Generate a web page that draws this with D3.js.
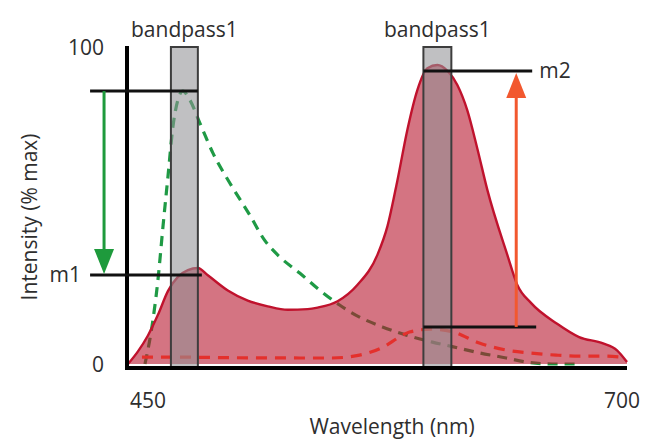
<!DOCTYPE html>
<html>
<head>
<meta charset="utf-8">
<script src="https://cdn.jsdelivr.net/npm/d3@7"></script>
<style>
  html, body { margin: 0; padding: 0; background: #fff; }
  svg { display: block; }
  text { font-family: "Open Sans", "Noto Sans", sans-serif; fill: #2e2e2e; }
</style>
</head>
<body>
<svg id="chart" width="648" height="440"></svg>
<script>
// ---- data ----
const redWl  = [450, 455, 460, 465, 470, 475, 480, 485, 490, 500, 510, 520, 530, 540, 545, 555, 565, 575, 580, 585, 590, 595, 600, 605, 610, 615, 620, 625, 630, 640, 645, 652, 665, 676, 688, 695, 700];
const redVal = [0, 4, 9, 15.5, 23, 27.5, 29.6, 30.3, 28, 23.2, 20, 18.2, 17.1, 17.3, 17.8, 19.8, 25, 34.5, 43.5, 58, 74, 86.5, 93.3, 94.3, 92.5, 88, 80, 68, 55, 34.5, 25, 19.2, 12.7, 8.5, 6.5, 4.3, 0.6];

const greenWl  = [458.5, 462.5, 465, 467.5, 470, 472.5, 475, 477.5, 481, 486, 492.5, 501, 511, 518.5, 526, 536, 546, 556, 566, 577.5, 589.5, 602.5, 613, 626, 639.5, 649.5, 662.5, 676];
const greenVal = [0, 13.9, 26.5, 43.2, 59, 74.8, 83.3, 86.1, 83.3, 76, 66.6, 57.1, 47, 39, 33.8, 28.7, 23.3, 18.6, 14.8, 11.7, 9.1, 6.9, 5.4, 3.5, 1.9, 0.6, 0, 0];

const redDashWl  = [457, 470, 500, 536, 552, 566, 578, 586, 591, 602, 613, 626, 639.5, 651, 664.5, 676, 688, 697];
const redDashVal = [2.2, 2.2, 2, 1.9, 1.9, 2.8, 5.4, 8.5, 10.1, 11, 10.1, 6.6, 4.4, 3.5, 2.8, 2.5, 2.5, 2.2];

const bandNames = ["bandpass1", "bandpass1"];
const bandLo = [471.5, 598];
const bandHi = [485, 612];

const xTickValues = [450, 700];
const xTickLabels = ["450", "700"];
const yTickValues = [0, 100];
const yTickLabels = ["0", "100"];

// marker lines: level (% max), wavelength start/end, optional label
const markerNames = ["", "m1", "m2", ""];
const markerLevel = [86.1, 28.1, 92.4, 11.7];
const markerFrom  = [431, 431, 598, 598];
const markerTo    = [485, 487, 652.5, 654.5];

// arrows: wavelength, from level, to level
const arrowWl   = [438, 644.5];
const arrowFrom = [86.1, 11.7];
const arrowTo   = [28.1, 92.4];

// ---- drawing ----
const svg = d3.select("#chart");
const x = d3.scaleLinear().domain([450, 700]).range([128, 627]);
const y = d3.scaleLinear().domain([0, 100]).range([364, 47]);

const pts = (w, v) => w.map((d, i) => [d, v[i]]);

const lineGen = d3.line().x(d => x(d[0])).y(d => y(d[1])).curve(d3.curveMonotoneX);
const areaGen = d3.area().x(d => x(d[0])).y0(y(0)).y1(d => y(d[1])).curve(d3.curveMonotoneX);

// green dashed (behind fill)
svg.append("path")
  .datum(pts(greenWl, greenVal))
  .attr("d", lineGen)
  .attr("fill", "none")
  .attr("stroke", "#1f9a45")
  .attr("stroke-width", 3.2)
  .attr("stroke-dasharray", "10,7");

// red area
const redPts = pts(redWl, redVal);
svg.append("path")
  .datum(redPts)
  .attr("d", areaGen)
  .attr("fill", "#b8182e")
  .attr("fill-opacity", 0.6);

// red dashed
svg.append("path")
  .datum(pts(redDashWl, redDashVal))
  .attr("d", lineGen)
  .attr("fill", "none")
  .attr("stroke", "#e4302c")
  .attr("stroke-width", 3.2)
  .attr("stroke-dasharray", "11,8");

// red solid outline
svg.append("path")
  .datum(redPts)
  .attr("d", lineGen)
  .attr("fill", "none")
  .attr("stroke", "#c0122d")
  .attr("stroke-width", 2.4);

// bandpass bands
const bands = bandNames.map((n, i) => ({ name: n, lo: bandLo[i], hi: bandHi[i] }));
svg.selectAll("rect.band").data(bands).join("rect")
  .attr("class", "band")
  .attr("x", d => x(d.lo))
  .attr("y", y(100))
  .attr("width", d => x(d.hi) - x(d.lo))
  .attr("height", y(0) - y(100) + 4)
  .attr("fill", "#929296")
  .attr("fill-opacity", 0.58)
  .attr("stroke", "#3d3d3d")
  .attr("stroke-width", 2);

svg.selectAll("text.bandlabel").data(bands).join("text")
  .attr("class", "bandlabel")
  .attr("x", d => (x(d.lo) + x(d.hi)) / 2)
  .attr("y", y(100) - 10)
  .attr("text-anchor", "middle")
  .attr("font-size", 21)
  .text(d => d.name);

// axes lines
svg.append("line")
  .attr("x1", x(450) - 1).attr("x2", x(450) - 1)
  .attr("y1", y(100) - 1).attr("y2", y(0) + 6)
  .attr("stroke", "#000").attr("stroke-width", 4);
svg.append("line")
  .attr("x1", x(450) - 3).attr("x2", x(700))
  .attr("y1", y(0) + 4).attr("y2", y(0) + 4)
  .attr("stroke", "#000").attr("stroke-width", 4);

// marker lines
const markers = markerNames.map((n, i) => ({ name: n, v: markerLevel[i], a: markerFrom[i], b: markerTo[i] }));
svg.selectAll("line.marker").data(markers).join("line")
  .attr("class", "marker")
  .attr("x1", d => x(d.a)).attr("x2", d => x(d.b))
  .attr("y1", d => y(d.v)).attr("y2", d => y(d.v))
  .attr("stroke", "#111").attr("stroke-width", 3);

svg.selectAll("text.mlabel").data(markers.filter(d => d.name)).join("text")
  .attr("class", "mlabel")
  .attr("x", d => d.name === "m1" ? x(d.a) - 9 : x(d.b) + 7)
  .attr("y", d => y(d.v))
  .attr("dy", "0.35em")
  .attr("text-anchor", d => d.name === "m1" ? "end" : "start")
  .attr("font-size", 21)
  .text(d => d.name);

// arrows
const arrowColors = ["#1e9a3c", "#f2582f"];
arrowWl.forEach((w, i) => {
  const ax = x(w), y0 = y(arrowFrom[i]), y1 = y(arrowTo[i]);
  const dir = y1 > y0 ? 1 : -1;
  const headLen = 25, headHalf = 10;
  const tip = y1 + (dir > 0 ? -1 : 2);
  svg.append("line")
    .attr("x1", ax).attr("x2", ax)
    .attr("y1", y0).attr("y2", tip - dir * headLen + dir * 2)
    .attr("stroke", arrowColors[i]).attr("stroke-width", 3);
  svg.append("path")
    .attr("d", d3.line()([[ax - headHalf, tip - dir * headLen], [ax + headHalf, tip - dir * headLen], [ax, tip]]) + "Z")
    .attr("fill", arrowColors[i]);
});

// tick labels
svg.selectAll("text.ytick").data(yTickValues).join("text")
  .attr("class", "ytick")
  .attr("x", x(450) - 24)
  .attr("y", d => y(d))
  .attr("dy", "0.38em")
  .attr("text-anchor", "end")
  .attr("font-size", 21)
  .text((d, i) => yTickLabels[i]);

svg.selectAll("text.xtick").data(xTickValues).join("text")
  .attr("class", "xtick")
  .attr("x", (d, i) => i === 0 ? x(d) + 2 : x(d) + 13)
  .attr("y", y(0) + 44)
  .attr("text-anchor", (d, i) => i === 0 ? "start" : "end")
  .attr("font-size", 21)
  .text((d, i) => xTickLabels[i]);

// axis titles
svg.append("text")
  .attr("x", 392).attr("y", y(0) + 70)
  .attr("text-anchor", "middle")
  .attr("font-size", 21)
  .text("Wavelength (nm)");

svg.append("text")
  .attr("transform", `translate(37, ${217}) rotate(-90)`)
  .attr("text-anchor", "middle")
  .attr("font-size", 21)
  .text("Intensity (% max)");
</script>
</body>
</html>
